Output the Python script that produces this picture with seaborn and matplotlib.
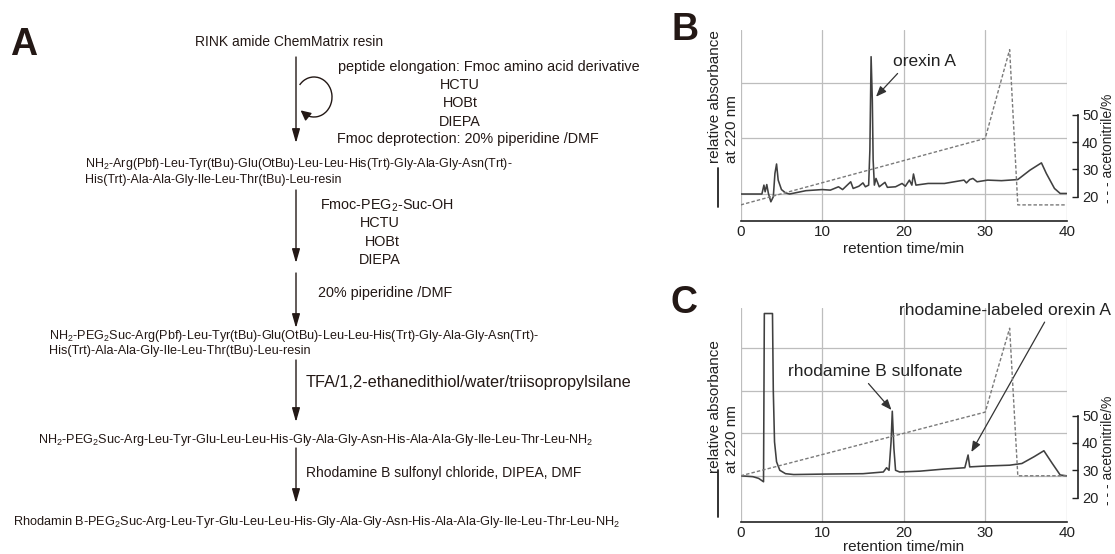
import numpy as np
import matplotlib.pyplot as plt
import seaborn as sns
from matplotlib.patches import Arc

# HPLC trace B (orexin A): (retention time/min, relative absorbance in grid units)
b_trace = [(0, 0), (2.6, 0), (2.85, 0.16), (3.0, 0.04), (3.2, 0.17), (3.4, 0.01),
           (3.7, -0.14), (4.0, -0.05), (4.2, 0.37), (4.4, 0.54), (4.6, 0.25), (5.0, 0.08),
           (5.5, 0.02), (6.0, 0.0), (8.0, 0.06), (10.0, 0.08), (11.0, 0.07), (12.0, 0.13),
           (12.5, 0.08), (13.5, 0.22), (13.8, 0.10), (14.5, 0.14), (15.0, 0.20), (15.3, 0.13),
           (15.7, 0.16), (15.85, 0.79), (16.0, 2.47), (16.15, 1.69), (16.25, 0.61), (16.4, 0.16),
           (16.6, 0.28), (17.0, 0.13), (17.7, 0.21), (18.0, 0.12), (19.0, 0.13), (19.8, 0.19),
           (20.2, 0.14), (20.7, 0.25), (21.0, 0.16), (21.2, 0.36), (21.5, 0.16), (23.0, 0.19),
           (25.0, 0.19), (27.4, 0.25), (27.7, 0.20), (28.1, 0.26), (28.5, 0.28), (29.0, 0.22),
           (30.3, 0.25), (32.0, 0.24), (34.0, 0.26), (35.5, 0.43), (36.9, 0.56), (37.5, 0.37),
           (38.5, 0.10), (39.2, 0.01), (40.0, 0.01)]
b_grad_time = [0, 30, 33, 34, 40]
b_grad_acn = [17.0, 41.4, 74.0, 17.0, 17.0]

# HPLC trace C (rhodamine-labeled orexin A)
c_trace = [(0, 0), (1.5, -0.02), (2.2, -0.06), (2.8, -0.14), (2.9, 3.82), (3.9, 3.82),
           (4.0, 2.0), (4.15, 0.8), (4.4, 0.33), (4.8, 0.13), (5.5, 0.05), (6.5, 0.03),
           (10.0, 0.04), (15.0, 0.05), (17.5, 0.09), (17.9, 0.19), (18.2, 0.13), (18.45, 0.8),
           (18.6, 1.52), (18.8, 0.64), (19.0, 0.13), (19.5, 0.09), (22.0, 0.11), (25.0, 0.16),
           (27.5, 0.19), (27.9, 0.49), (28.1, 0.21), (30.0, 0.23), (33.0, 0.25), (34.5, 0.29),
           (36.0, 0.45), (37.2, 0.59), (38.2, 0.30), (39.2, 0.02), (40.0, 0.0)]
c_grad_time = [0, 30, 33, 34, 40]
c_grad_acn = [28.0, 51.3, 82.0, 28.0, 28.0]

time_ticks = [0, 10, 20, 30, 40]
acn_ticks = [20, 30, 40, 50]

# synthesis scheme (panel A)
scheme_text = [
    (195, 42, 'RINK amide ChemMatrix resin', 10),
    (338, 67, 'peptide elongation: Fmoc amino acid derivative', 10.4),
    (337, 139, 'Fmoc deprotection: 20% piperidine /DMF', 10.4),
    (85, 164, 'NH$_2$-Arg(Pbf)-Leu-Tyr(tBu)-Glu(OtBu)-Leu-Leu-His(Trt)-Gly-Ala-Gly-Asn(Trt)-', 9.0),
    (85, 180.5, 'His(Trt)-Ala-Ala-Gly-Ile-Leu-Thr(tBu)-Leu-resin', 9.0),
    (320, 206, 'Fmoc-PEG$_2$-Suc-OH', 10.4),
    (318, 293, '20% piperidine /DMF', 10.4),
    (49, 336, 'NH$_2$-PEG$_2$Suc-Arg(Pbf)-Leu-Tyr(tBu)-Glu(OtBu)-Leu-Leu-His(Trt)-Gly-Ala-Gly-Asn(Trt)-', 9.05),
    (49, 351, 'His(Trt)-Ala-Ala-Gly-Ile-Leu-Thr(tBu)-Leu-resin', 9.05),
    (306, 383, 'TFA/1,2-ethanedithiol/water/triisopropylsilane', 11.7),
    (38, 440, 'NH$_2$-PEG$_2$Suc-Arg-Leu-Tyr-Glu-Leu-Leu-His-Gly-Ala-Gly-Asn-His-Ala-Ala-Gly-Ile-Leu-Thr-Leu-NH$_2$', 9.1),
    (306, 473, 'Rhodamine B sulfonyl chloride, DIPEA, DMF', 10),
    (13, 522, 'Rhodamin B-PEG$_2$Suc-Arg-Leu-Tyr-Glu-Leu-Leu-His-Gly-Ala-Gly-Asn-His-Ala-Ala-Gly-Ile-Leu-Thr-Leu-NH$_2$', 9.15),
]
reagent_stack = [(460, 85, 'HCTU'), (460, 103, 'HOBt'), (460, 121.5, 'DIEPA'),
                 (380, 223, 'HCTU'), (382, 241.5, 'HOBt'), (380, 260, 'DIEPA')]
arrow_spans = [(57, 143), (190, 263), (273, 328), (360, 422), (448, 503)]

sns.set_theme(style='white')
plt.rcParams['font.family'] = ['Liberation Sans', 'DejaVu Sans']
plt.rcParams['mathtext.default'] = 'regular'
INK = '#231815'

W, H = 1115, 554
fig = plt.figure(figsize=(W / 100, H / 100), dpi=100)
fig.patch.set_facecolor('white')

# pixel-coordinate canvas for the scheme and free labels
bg = fig.add_axes([0, 0, 1, 1], zorder=0)
bg.set_xlim(0, W)
bg.set_ylim(H, 0)
bg.axis('off')

for x, y, s, fs in scheme_text:
    bg.text(x, y, s, ha='left', va='center', fontsize=fs, color=INK)
for x, y, s in reagent_stack:
    bg.text(x, y, s, ha='center', va='center', fontsize=10.4, color=INK)
for y0, y1 in arrow_spans:
    bg.annotate('', xy=(296, y1), xytext=(296, y0),
                arrowprops=dict(arrowstyle='-|>,head_length=0.7,head_width=0.2',
                                color=INK, lw=1, shrinkA=0, shrinkB=0))

# cycling loop
cx, cy, rx, ry = 314, 97, 18, 20
bg.add_patch(Arc((cx, cy), 2 * rx, 2 * ry, theta1=-140, theta2=128, color=INK, lw=1))
th0, th1 = np.deg2rad(115), np.deg2rad(138)
bg.annotate('', xy=(cx + rx * np.cos(th1), cy + ry * np.sin(th1)),
            xytext=(cx + rx * np.cos(th0), cy + ry * np.sin(th0)),
            arrowprops=dict(arrowstyle='-|>,head_length=0.5,head_width=0.25',
                            color=INK, lw=1, shrinkA=0, shrinkB=0))

# panel letters
bg.text(10, 55, 'A', fontsize=27, fontweight='bold', color=INK, va='baseline')
bg.text(671, 40, 'B', fontsize=27, fontweight='bold', color=INK, va='baseline')
bg.text(671, 313, 'C', fontsize=27, fontweight='bold', color=INK, va='baseline')


def axes_px(left, top, right, bottom):
    return fig.add_axes([left / W, 1 - bottom / H, (right - left) / W, (bottom - top) / H], zorder=2)


def chromatogram(ax, trace, g_time, g_acn, ylim, ylim2, hgrid, label_y, bar, xpad):
    t, a = zip(*trace)
    sns.lineplot(x=list(t), y=list(a), ax=ax, color='#404040', lw=1.15, sort=False, estimator=None)
    ax.set_xlim(0, 40)
    ax.set_ylim(*ylim)
    ax.set_xticks(time_ticks)
    ax.set_yticks(hgrid)
    ax.grid(True, color='#bdbdbd', lw=0.9)
    for s in ['left', 'top', 'right']:
        ax.spines[s].set_visible(False)
    ax.spines['bottom'].set_color('#222222')
    ax.spines['bottom'].set_linewidth(1.2)
    ax.set_facecolor('none')
    ax.set_xlabel('retention time/min', fontsize=11, labelpad=xpad, color='#222222')
    ax.set_ylabel('')

    ax2 = ax.twinx()
    sns.lineplot(x=g_time, y=g_acn, ax=ax2, color='#7a7a7a', lw=1, sort=False,
                 estimator=None, linestyle=(0, (2.5, 1.5)))
    ax2.set_ylim(*ylim2)
    ax2.set_yticks(acn_ticks)
    ax2.set_ylabel('')
    ax2.grid(False)
    for s in ['left', 'top', 'bottom']:
        ax2.spines[s].set_visible(False)
    ax2.spines['right'].set_bounds(20, 50)
    ax2.spines['right'].set_position(('outward', 8))
    ax2.spines['right'].set_color('#222222')
    ax2.spines['right'].set_linewidth(1.2)
    ax2.tick_params(axis='y', direction='in', length=4, width=1, labelsize=10.5, pad=3,
                    colors='#222222')
    # twinx turns the left ticks back on, so clear them afterwards
    ax.tick_params(axis='y', left=False, right=False, labelleft=False, labelright=False)
    ax.tick_params(axis='x', direction='in', length=4, width=1, labelsize=11, pad=3,
                   colors='#222222')

    # free labels on the pixel canvas
    bg.text(715, label_y, 'relative absorbance', rotation=90, rotation_mode='anchor',
            ha='left', va='center', fontsize=11, color='#222222')
    bg.text(731.5, label_y, 'at 220 nm', rotation=90, rotation_mode='anchor',
            ha='left', va='center', fontsize=11, color='#222222')
    bg.plot([718, 718], bar, color='#222222', lw=1.3)
    return ax2


ax_b = axes_px(740.7, 30, 1066.7, 220.7)
chromatogram(ax_b, b_trace, b_grad_time, b_grad_acn, (-0.48, 2.95), (11.2, 81.2),
             [0, 1, 2], 163, [168, 207], 2)
bg.text(1107.5, 203, '- - - acetonitrile/%', rotation=90, rotation_mode='anchor',
        ha='left', va='center', fontsize=10, color='#222222')
ax_b.annotate('orexin A', xy=(16.6, 1.75), xytext=(22.6, 2.38), ha='center', va='center',
              fontsize=12.5, color='#222222', annotation_clip=False,
              arrowprops=dict(arrowstyle='-|>,head_length=0.5,head_width=0.2', color='#333333',
                              lw=0.9, relpos=(0.13, 0.0), shrinkA=1, shrinkB=0))

ax_c = axes_px(740.7, 308, 1066.7, 521.7)
chromatogram(ax_c, c_trace, c_grad_time, c_grad_acn, (-1.08, 3.95), (11.2, 89.4),
             [0, 1, 2, 3], 473, [470, 517], 0)
bg.text(1107.5, 505, '- - - acetonitrile/%', rotation=90, rotation_mode='anchor',
        ha='left', va='center', fontsize=10, color='#222222')
ax_c.annotate('rhodamine B sulfonate', xy=(18.5, 1.55), xytext=(16.5, 2.45), ha='center',
              va='center', fontsize=12.5, color='#222222', annotation_clip=False,
              arrowprops=dict(arrowstyle='-|>,head_length=0.5,head_width=0.2', color='#333333',
                              lw=0.9, relpos=(0.44, 0.0), shrinkA=1, shrinkB=0))
ax_c.annotate('rhodamine-labeled orexin A', xy=(28.3, 0.56), xytext=(32.4, 3.9), ha='center',
              va='center', fontsize=12.5, color='#222222', annotation_clip=False,
              arrowprops=dict(arrowstyle='-|>,head_length=0.5,head_width=0.2', color='#333333',
                              lw=0.9, relpos=(0.70, 0.0), shrinkA=1, shrinkB=0))

fig.savefig('out.png', dpi=100)
